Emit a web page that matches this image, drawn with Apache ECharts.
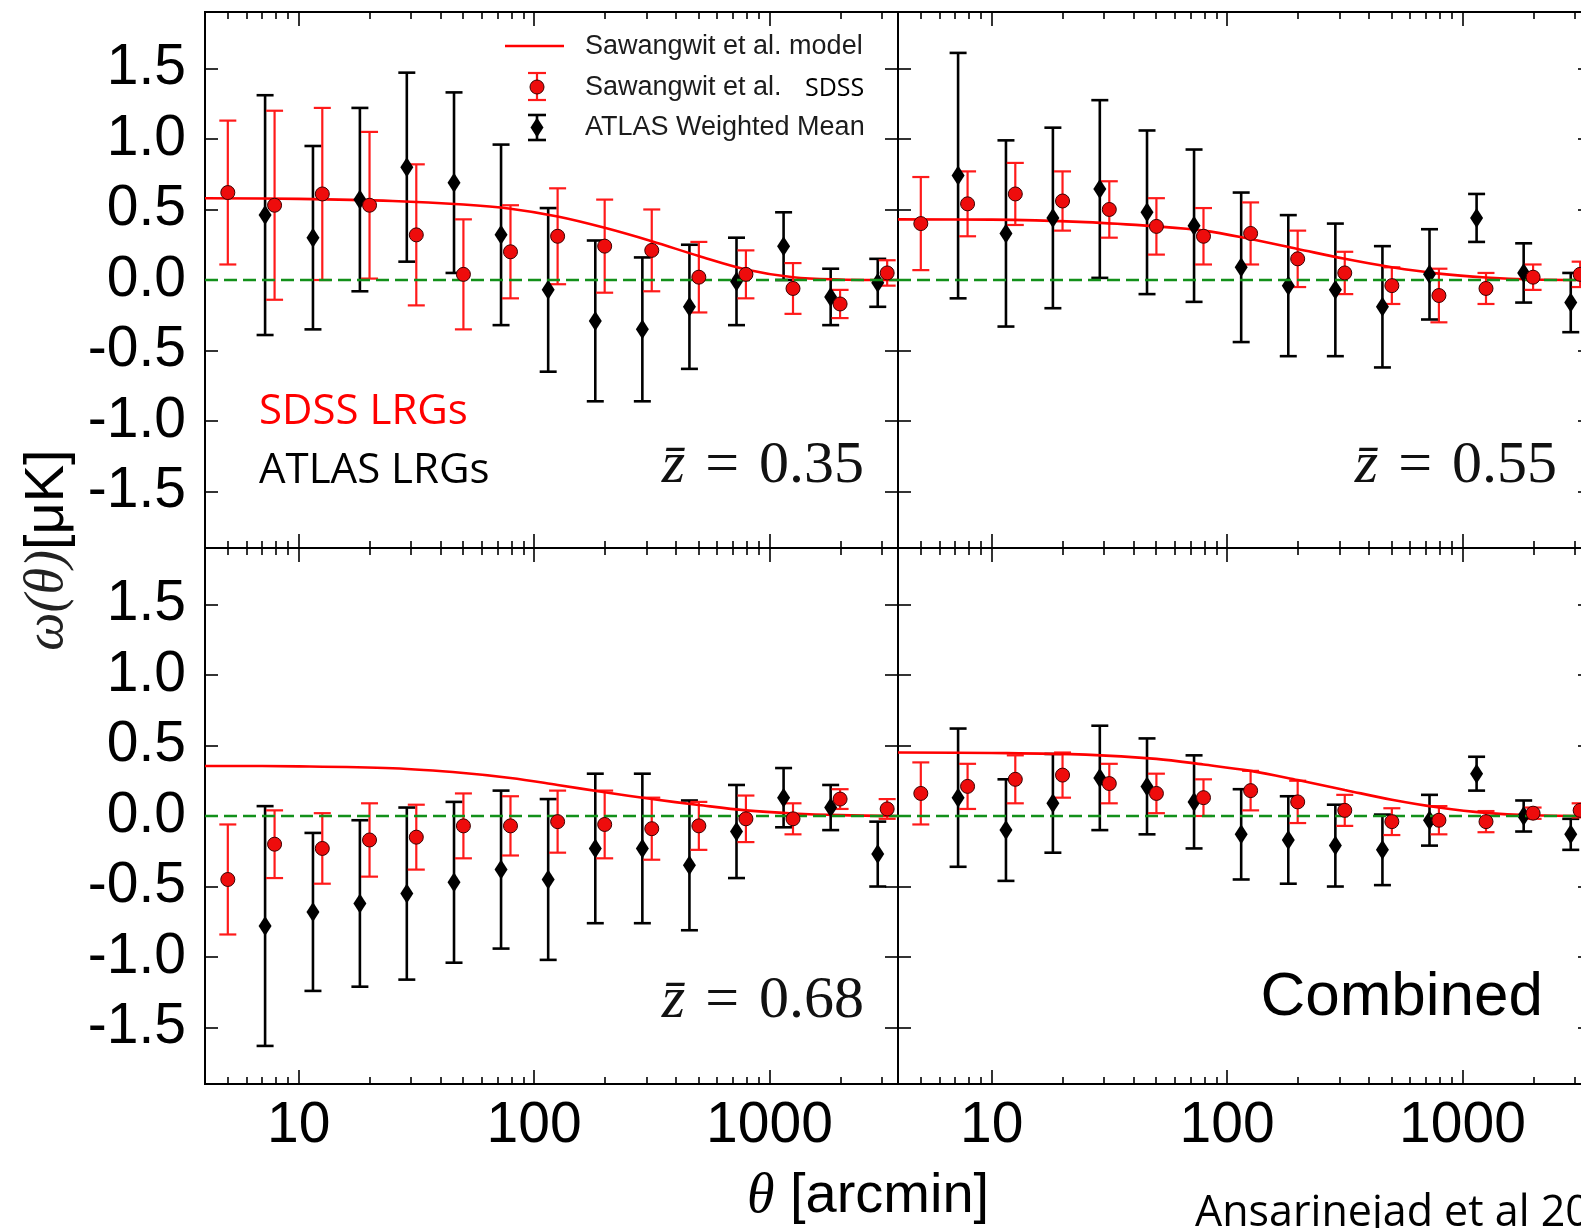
<!DOCTYPE html>
<html><head><meta charset="utf-8">
<script src="https://cdn.jsdelivr.net/npm/echarts@6/dist/echarts.min.js"></script>
<style>html,body{margin:0;padding:0;background:#fff;}#c{width:1581px;height:1228px;}</style>
</head><body><div id="c"></div>
<script>
// ---------------- data ----------------
const X_MIN = 4, X_MAX = 3516;
const Y_MIN = -1.9, Y_MAX = 1.9;
const thetaSDSS  = [5.0, 7.9, 12.6, 20.0, 31.6, 50.1, 79.4, 125.9, 199.5, 316.2, 501.2, 794.3, 1258.9, 1995.3, 3162.3];
const thetaATLAS = [7.2, 11.5, 18.2, 28.8, 45.7, 72.4, 114.8, 182.0, 288.4, 457.1, 724.4, 1148.2, 1819.7, 2884.0];
const thetaModel = [4.0, 10.0, 25.1, 50.1, 79.4, 125.9, 199.5, 316.2, 501.2, 794.3, 1258.9, 1995.3, 3500];

// z = 0.35
const sdss035     = [0.62, 0.53, 0.61, 0.53, 0.32, 0.04, 0.20, 0.31, 0.24, 0.21, 0.02, 0.04, -0.06, -0.17, 0.05];
const sdssErr035  = [0.51, 0.67, 0.61, 0.52, 0.50, 0.39, 0.33, 0.34, 0.33, 0.29, 0.25, 0.17, 0.18, 0.10, 0.09];
const atlas035    = [0.46, 0.30, 0.57, 0.80, 0.69, 0.32, -0.07, -0.29, -0.35, -0.19, -0.01, 0.24, -0.12, -0.02];
const atlasErr035 = [0.85, 0.65, 0.65, 0.67, 0.64, 0.64, 0.58, 0.57, 0.51, 0.44, 0.31, 0.24, 0.20, 0.17];
const model035    = [0.58, 0.575, 0.56, 0.535, 0.505, 0.45, 0.37, 0.275, 0.17, 0.075, 0.02, 0.004, 0.0];

// z = 0.55
const sdss055     = [0.40, 0.54, 0.61, 0.56, 0.50, 0.38, 0.31, 0.33, 0.15, 0.05, -0.04, -0.11, -0.06, 0.02, 0.04];
const sdssErr055  = [0.33, 0.23, 0.22, 0.21, 0.20, 0.20, 0.20, 0.22, 0.20, 0.15, 0.13, 0.19, 0.11, 0.09, 0.09];
const atlas055    = [0.74, 0.33, 0.44, 0.645, 0.48, 0.385, 0.09, -0.04, -0.07, -0.19, 0.04, 0.44, 0.05, -0.16];
const atlasErr055 = [0.87, 0.66, 0.64, 0.63, 0.58, 0.54, 0.53, 0.50, 0.47, 0.43, 0.32, 0.17, 0.21, 0.21];
const model055    = [0.43, 0.428, 0.41, 0.38, 0.35, 0.29, 0.22, 0.15, 0.09, 0.045, 0.018, 0.004, 0.0];

// z = 0.68
const sdss068     = [-0.45, -0.20, -0.23, -0.17, -0.15, -0.07, -0.07, -0.04, -0.06, -0.09, -0.07, -0.02, -0.02, 0.12, 0.05];
const sdssErr068  = [0.39, 0.24, 0.25, 0.26, 0.23, 0.23, 0.21, 0.22, 0.24, 0.22, 0.17, 0.165, 0.11, 0.07, 0.07];
const atlas068    = [-0.78, -0.68, -0.62, -0.55, -0.47, -0.38, -0.45, -0.23, -0.23, -0.35, -0.11, 0.13, 0.06, -0.27];
const atlasErr068 = [0.85, 0.56, 0.59, 0.61, 0.57, 0.56, 0.57, 0.53, 0.53, 0.46, 0.33, 0.21, 0.16, 0.23];
const model068    = [0.355, 0.352, 0.338, 0.305, 0.27, 0.22, 0.168, 0.12, 0.078, 0.04, 0.018, 0.006, 0.0];

// Combined
const sdssComb     = [0.16, 0.21, 0.26, 0.29, 0.23, 0.16, 0.13, 0.18, 0.10, 0.04, -0.04, -0.03, -0.04, 0.02, 0.04];
const sdssErrComb  = [0.22, 0.16, 0.17, 0.16, 0.14, 0.14, 0.13, 0.14, 0.15, 0.11, 0.095, 0.10, 0.075, 0.04, 0.05];
const atlasComb    = [0.13, -0.10, 0.09, 0.27, 0.21, 0.10, -0.13, -0.17, -0.21, -0.24, -0.03, 0.30, 0.0, -0.13];
const atlasErrComb = [0.49, 0.36, 0.35, 0.37, 0.34, 0.33, 0.32, 0.31, 0.29, 0.25, 0.18, 0.12, 0.11, 0.11];
const modelComb    = [0.45, 0.447, 0.435, 0.405, 0.365, 0.32, 0.255, 0.185, 0.115, 0.06, 0.022, 0.005, 0.0];

const xMajorTicks = [10, 100, 1000];
const xMinorTicks = [5, 6, 7, 8, 9, 20, 30, 40, 50, 60, 70, 80, 90, 200, 300, 400, 500, 600, 700, 800, 900, 2000, 3000];
const yTicks = [-1.5, -1.0, -0.5, 0.0, 0.5, 1.0, 1.5];

// ---------------- layout ----------------
const PW = 693, PH = 536;
const panels = [
  {left: 205, top: 12,  sdss: sdss035, sdssErr: sdssErr035, atlas: atlas035, atlasErr: atlasErr035, model: model035, xl: false, yl: true},
  {left: 898, top: 12,  sdss: sdss055, sdssErr: sdssErr055, atlas: atlas055, atlasErr: atlasErr055, model: model055, xl: false, yl: false},
  {left: 205, top: 548, sdss: sdss068, sdssErr: sdssErr068, atlas: atlas068, atlasErr: atlasErr068, model: model068, xl: true, yl: true},
  {left: 898, top: 548, sdss: sdssComb, sdssErr: sdssErrComb, atlas: atlasComb, atlasErr: atlasErrComb, model: modelComb, xl: true, yl: false}
];

const SANS = '"Liberation Sans", Arial, Helvetica, sans-serif';
const SERIF = '"Liberation Serif", "Times New Roman", serif';
const CAL = '"Open Sans", "Noto Sans", sans-serif';
const LMIN = Math.log10(X_MIN), LMAX = Math.log10(X_MAX);
const tickLine = {color: '#000', width: 1.6};

function decoX(gi, pos, vals, len, labels) {
  const lv = vals.map(v => Math.log10(v));
  return {
    type: 'value', gridIndex: gi, position: pos, min: LMIN, max: LMAX,
    axisLine: {show: false, onZero: false}, splitLine: {show: false},
    axisTick: {show: true, inside: true, length: len, customValues: lv, lineStyle: tickLine},
    axisLabel: {show: !!labels, customValues: lv, formatter: v => String(Math.round(Math.pow(10, v))),
      fontSize: 57, fontFamily: SANS, color: '#000', margin: 14}
  };
}

function errRender(color, lw, capW) {
  return function (params, api) {
    const x = api.value(0), y = api.value(1), e = api.value(2);
    const p1 = api.coord([x, y + e]), p2 = api.coord([x, y - e]);
    const h = capW / 2;
    const st = {stroke: color, lineWidth: lw};
    return {type: 'group', children: [
      {type: 'line', shape: {x1: p1[0], y1: p1[1], x2: p2[0], y2: p2[1]}, style: st},
      {type: 'line', shape: {x1: p1[0] - h, y1: p1[1], x2: p1[0] + h, y2: p1[1]}, style: st},
      {type: 'line', shape: {x1: p2[0] - h, y1: p2[1], x2: p2[0] + h, y2: p2[1]}, style: st}
    ]};
  };
}

const grids = [], xAxes = [], yAxes = [], series = [];
panels.forEach((p, gi) => {
  grids.push({left: p.left, top: p.top, width: PW, height: PH, show: true, borderColor: '#000', borderWidth: 2,
    backgroundColor: 'rgba(0,0,0,0)', containLabel: false, outerBoundsMode: 'none'});
  const xi = xAxes.length;
  xAxes.push({type: 'log', logBase: 10, gridIndex: gi, min: X_MIN, max: X_MAX, show: false,
    axisLine: {show: false, onZero: false}, axisTick: {show: false}, axisLabel: {show: false}, splitLine: {show: false}});
  xAxes.push(decoX(gi, 'bottom', xMajorTicks, 14, p.xl));
  xAxes.push(decoX(gi, 'bottom', xMinorTicks, 7, false));
  xAxes.push(decoX(gi, 'top', xMajorTicks, 14, false));
  xAxes.push(decoX(gi, 'top', xMinorTicks, 7, false));
  const yi = yAxes.length;
  yAxes.push({type: 'value', gridIndex: gi, position: 'left', min: Y_MIN, max: Y_MAX,
    axisLine: {show: false, onZero: false}, splitLine: {show: false},
    axisTick: {show: true, inside: true, length: 13, customValues: yTicks, lineStyle: tickLine},
    axisLabel: {show: p.yl, customValues: yTicks, formatter: v => v.toFixed(1), fontSize: 57, fontFamily: SANS, color: '#000', margin: 19}});
  yAxes.push({type: 'value', gridIndex: gi, position: 'right', min: Y_MIN, max: Y_MAX,
    axisLine: {show: false, onZero: false}, splitLine: {show: false},
    axisTick: {show: true, inside: true, length: 13, customValues: yTicks, lineStyle: tickLine},
    axisLabel: {show: false}});

  series.push({type: 'custom', name: 'atlasErr' + gi, xAxisIndex: xi, yAxisIndex: yi, z: 2, silent: true,
    renderItem: errRender('#000', 2.6, 17), encode: {x: 0, y: 1},
    data: thetaATLAS.map((t, k) => [t, p.atlas[k], p.atlasErr[k]])});
  series.push({type: 'custom', name: 'sdssErr' + gi, xAxisIndex: xi, yAxisIndex: yi, z: 2, silent: true,
    renderItem: errRender('#ff1a1a', 2.2, 17), encode: {x: 0, y: 1},
    data: thetaSDSS.map((t, k) => [t, p.sdss[k], p.sdssErr[k]])});
  series.push({type: 'line', name: 'model' + gi, xAxisIndex: xi, yAxisIndex: yi, z: 3, silent: true,
    smooth: 0.35, showSymbol: false, symbol: 'none',
    lineStyle: {color: '#ff0000', width: 2.6},
    data: thetaModel.map((t, k) => [t, p.model[k]]),
    markLine: {silent: true, symbol: ['none', 'none'], label: {show: false}, animation: false,
      lineStyle: {color: '#12901a', type: [13, 6], width: 2.3}, data: [{yAxis: 0}]}});
  series.push({type: 'scatter', name: 'atlas' + gi, xAxisIndex: xi, yAxisIndex: yi, z: 4, silent: true,
    symbol: 'diamond', symbolSize: [13, 20], itemStyle: {color: '#000', opacity: 1},
    data: thetaATLAS.map((t, k) => [t, p.atlas[k]])});
  series.push({type: 'scatter', name: 'sdss' + gi, xAxisIndex: xi, yAxisIndex: yi, z: 5, silent: true,
    symbol: 'circle', symbolSize: 14, itemStyle: {color: '#ee0c0c', borderColor: '#3a0000', borderWidth: 1, opacity: 1},
    data: thetaSDSS.map((t, k) => [t, p.sdss[k]])});
});

// ---------------- text and legend ----------------
function txt(x, y, text, font, fill, align, extra) {
  return Object.assign({type: 'text', x: x, y: y, silent: true, z: 10,
    style: {text: text, font: font, fill: fill || '#000', align: align || 'left', verticalAlign: 'middle'}}, extra || {});
}
const legCol = '#1c1c1c';
const graphics = [
  // legend
  {type: 'line', silent: true, z: 10, shape: {x1: 505, y1: 46, x2: 564, y2: 46}, style: {stroke: '#ff0000', lineWidth: 2.6}},
  {type: 'line', silent: true, z: 10, shape: {x1: 537, y1: 73, x2: 537, y2: 100}, style: {stroke: '#ff1a1a', lineWidth: 2.2}},
  {type: 'line', silent: true, z: 10, shape: {x1: 528, y1: 73, x2: 546, y2: 73}, style: {stroke: '#ff1a1a', lineWidth: 2.2}},
  {type: 'line', silent: true, z: 10, shape: {x1: 528, y1: 100, x2: 546, y2: 100}, style: {stroke: '#ff1a1a', lineWidth: 2.2}},
  {type: 'circle', silent: true, z: 11, shape: {cx: 537, cy: 87, r: 7}, style: {fill: '#ee0c0c', stroke: '#3a0000', lineWidth: 1}},
  {type: 'line', silent: true, z: 10, shape: {x1: 537, y1: 115, x2: 537, y2: 140}, style: {stroke: '#000', lineWidth: 2.6}},
  {type: 'line', silent: true, z: 10, shape: {x1: 528, y1: 115, x2: 546, y2: 115}, style: {stroke: '#000', lineWidth: 2.6}},
  {type: 'line', silent: true, z: 10, shape: {x1: 528, y1: 140, x2: 546, y2: 140}, style: {stroke: '#000', lineWidth: 2.6}},
  {type: 'polygon', silent: true, z: 11, shape: {points: [[537, 117.5], [543.5, 127.5], [537, 137.5], [530.5, 127.5]]}, style: {fill: '#000'}},
  txt(585, 47, 'Sawangwit et al. model', '27px ' + SANS, legCol),
  txt(585, 88, 'Sawangwit et al.', '27px ' + SANS, legCol),
  txt(805, 89, 'SDSS', '25px ' + CAL, '#000'),
  txt(585, 128, 'ATLAS Weighted Mean', '27px ' + SANS, legCol),
  // sample annotations
  txt(259, 412, 'SDSS LRGs', '42px ' + CAL, '#ff0000'),
  txt(259, 471, 'ATLAS LRGs', '42px ' + CAL, '#000'),
  // panel labels
  {type: 'text', x: 864, y: 466, silent: true, z: 10, style: {text: '{z|z\u0304}{r|\u2004=\u20040.35}', align: 'right', verticalAlign: 'middle', fill: '#111',
    rich: {z: {font: 'italic 60px ' + SERIF, fill: '#111'}, r: {font: '60px ' + SERIF, fill: '#111'}}}},
  {type: 'text', x: 1557, y: 466, silent: true, z: 10, style: {text: '{z|z\u0304}{r|\u2004=\u20040.55}', align: 'right', verticalAlign: 'middle', fill: '#111',
    rich: {z: {font: 'italic 60px ' + SERIF, fill: '#111'}, r: {font: '60px ' + SERIF, fill: '#111'}}}},
  {type: 'text', x: 864, y: 1001, silent: true, z: 10, style: {text: '{z|z\u0304}{r|\u2004=\u20040.68}', align: 'right', verticalAlign: 'middle', fill: '#111',
    rich: {z: {font: 'italic 60px ' + SERIF, fill: '#111'}, r: {font: '60px ' + SERIF, fill: '#111'}}}},
  txt(1543, 998, 'Combined', '62px ' + SANS, '#000', 'right'),
  // axis titles
  {type: 'text', x: 48, y: 550, rotation: Math.PI / 2, silent: true, z: 10,
    style: {text: '{a|ω(θ)}{b|[μK]}', align: 'center', verticalAlign: 'middle', fill: '#000',
      rich: {a: {font: 'italic 54px ' + SERIF, fill: '#222'}, b: {font: '56px ' + SANS, fill: '#000'}}}},
  {type: 'text', x: 868, y: 1197, silent: true, z: 10,
    style: {text: '{a|θ}{b| [arcmin]}', align: 'center', verticalAlign: 'middle', fill: '#000',
      rich: {a: {font: 'italic 56px ' + SERIF, fill: '#000'}, b: {font: '56px ' + SANS, fill: '#000'}}}},
  txt(1195, 1214, 'Ansarinejad et al 2020', '43px ' + CAL, '#000')
];

const chart = echarts.init(document.getElementById('c'), null, {renderer: 'canvas'});
chart.setOption({
  backgroundColor: '#ffffff',
  animation: false,
  grid: grids,
  xAxis: xAxes,
  yAxis: yAxes,
  series: series,
  graphic: graphics
});
</script></body></html>
